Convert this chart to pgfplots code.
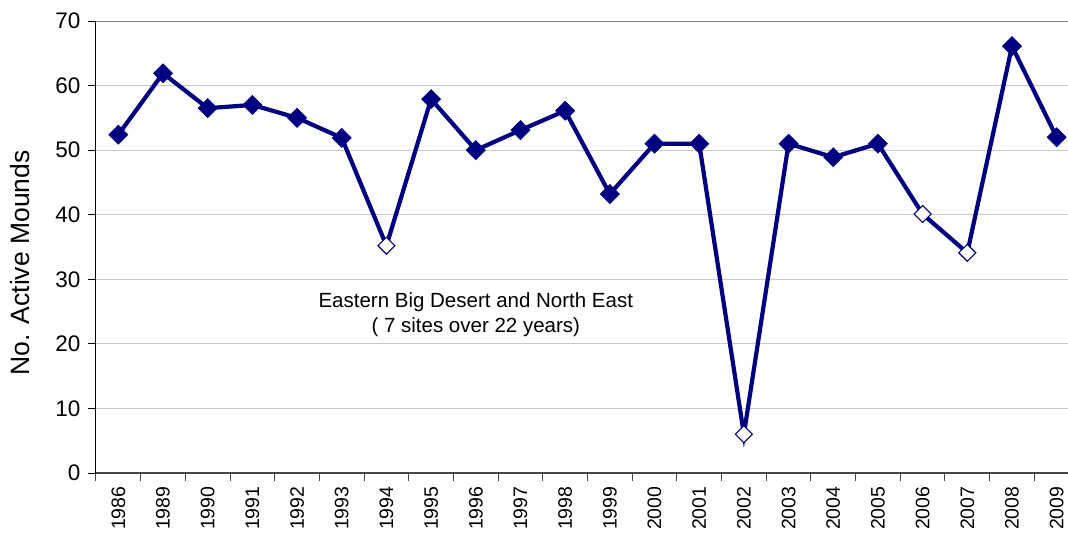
\documentclass[border=0pt]{standalone}
\usepackage{pgfplots}
\pgfplotsset{compat=1.18}
\usepackage{fontspec}
\setmainfont{Liberation Sans}
\definecolor{navyline}{RGB}{0,0,128}
\definecolor{gridgray}{RGB}{200,200,200}
\definecolor{axisgray}{RGB}{70,70,70}
\begin{document}
\begin{tikzpicture}
\path[use as bounding box] (-96bp,-62bp) rectangle (972bp,473bp);
\begin{axis}[
  at={(0,0)}, anchor=south west,
  scale only axis,
  width=983bp, height=452bp,
  xmin=-0.5, xmax=21.5,
  ymin=0, ymax=70,
  axis x line*=bottom,
  axis y line*=left,
  x axis line style={-, draw=axisgray, line width=1.6bp},
  y axis line style={-, draw=black, line width=1bp},
  xtick={0,...,21},
  xticklabels={1986,1989,1990,1991,1992,1993,1994,1995,1996,1997,1998,1999,2000,2001,2002,2003,2004,2005,2006,2007,2008,2009},
  major x tick style={draw=none},
  minor xtick={-0.5,0.5,...,21.5},
  minor x tick style={draw=axisgray, line width=1bp},
  minor tick length=8bp,
  ytick={0,10,...,70},
  major tick length=8bp,
  y tick style={draw=black, line width=0.8bp},
  tick align=outside,
  ymajorgrids,
  grid style={draw=gridgray, line width=0.8bp},
  /pgf/number format/assume math mode=true,
  yticklabel style={font=\fontsize{22.5bp}{26bp}\selectfont, xshift=-4bp},
  xticklabel style={font=\fontsize{19.5bp}{22bp}\selectfont, rotate=90, anchor=east, xshift=-2bp},
  ylabel={No. Active Mounds},
  ylabel style={font=\fontsize{26.5bp}{30bp}\selectfont, at={(axis description cs:-0.0773,0.465)}, anchor=center},
  clip=false,
  extra y ticks={70},
  extra y tick labels={},
  extra y tick style={grid style={draw=gray, line width=0.8bp}},
]
% full series (line)
\addplot[navyline, line width=4.2bp, mark=none] coordinates {
(0,52.4) (1,61.9) (2,56.5) (3,57.0) (4,55.0) (5,51.9) (6,35.2) (7,57.9) (8,50.0) (9,53.1) (10,56.1)
(11,43.2) (12,51.0) (13,51.0) (14,6.0) (15,51.0) (16,48.9) (17,51.0) (18,40.1) (19,34.1) (20,66.1) (21,52.0)
};
% filled markers
\addplot[only marks, mark=square*, mark size=6.8bp, mark options={rotate=45, fill=navyline, draw=navyline, line width=0.5bp}] coordinates {
(0,52.4) (1,61.9) (2,56.5) (3,57.0) (4,55.0) (5,51.9) (7,57.9) (8,50.0) (9,53.1) (10,56.1)
(11,43.2) (12,51.0) (13,51.0) (15,51.0) (16,48.9) (17,51.0) (20,66.1) (21,52.0)
};
% open markers
\addplot[only marks, mark=square*, mark size=6.0bp, mark options={rotate=45, fill=white, draw=navyline, line width=1.1bp}] coordinates {
(6,35.2) (14,6.0) (18,40.1) (19,34.1)
};
\node[font=\fontsize{20.5bp}{25bp}\selectfont, align=center] at (axis cs:8.0,24.5) {Eastern Big Desert and North East\\( 7 sites over 22 years)};
\end{axis}
\end{tikzpicture}
\end{document}
